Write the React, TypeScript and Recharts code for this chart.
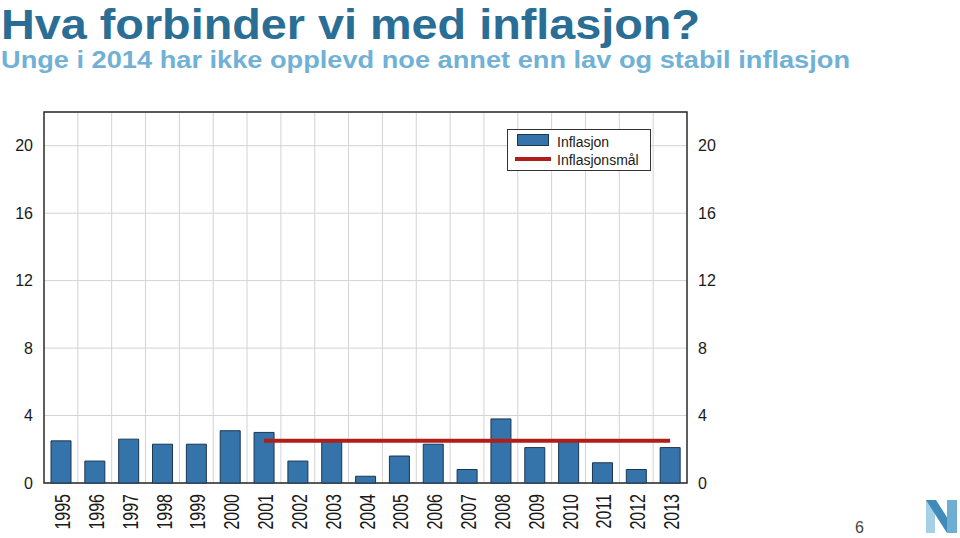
import React from "react";
import {
  ComposedChart,
  Bar,
  Line,
  XAxis,
  YAxis,
  CartesianGrid,
  Legend,
  ReferenceArea,
} from "recharts";

const years = [
  "1995", "1996", "1997", "1998", "1999", "2000", "2001", "2002", "2003", "2004",
  "2005", "2006", "2007", "2008", "2009", "2010", "2011", "2012", "2013",
];
const inflation = [
  2.5, 1.3, 2.6, 2.3, 2.3, 3.1, 3.0, 1.3, 2.5, 0.4,
  1.6, 2.3, 0.8, 3.8, 2.1, 2.5, 1.2, 0.8, 2.1,
];
const target = [
  null, null, null, null, null, null, 2.5, 2.5, 2.5, 2.5,
  2.5, 2.5, 2.5, 2.5, 2.5, 2.5, 2.5, 2.5, 2.5,
];
const yTicks = [0, 4, 8, 12, 16, 20];

const data = years.map((year, i) => ({
  year,
  inflasjon: inflation[i],
  maal: target[i],
}));

const FONT = '"Liberation Sans", Arial, Helvetica, sans-serif';
const BLUE = "#3474aa";
const RED = "#b01e1a";

const YearTick = (props: any) => {
  const { x, y, payload } = props;
  return (
    <text
      transform={`translate(${x + 1},${y + 11}) rotate(-90) scale(1,1.4)`}
      textAnchor="end"
      dominantBaseline="central"
      fontSize={16}
      fontFamily={FONT}
      fill="#1a1a1a"
    >
      {payload.value}
    </text>
  );
};

const renderLegend = () => (
  <div
    style={{
      position: "relative",
      width: 144,
      height: 42,
      boxSizing: "border-box",
      border: "1px solid #333",
      background: "#fff",
      fontFamily: FONT,
      fontSize: 14,
      color: "#1a1a1a",
    }}
  >
    <div
      style={{
        position: "absolute",
        left: 9,
        top: 4,
        width: 32,
        height: 12,
        boxSizing: "border-box",
        background: BLUE,
        border: "1px solid #1c3550",
      }}
    />
    <div style={{ position: "absolute", left: 49, top: 3, lineHeight: "18px" }}>
      Inflasjon
    </div>
    <div
      style={{
        position: "absolute",
        left: 7,
        top: 27,
        width: 36,
        height: 4,
        background: RED,
      }}
    />
    <div style={{ position: "absolute", left: 49, top: 21, lineHeight: "18px" }}>
      Inflasjonsmål
    </div>
  </div>
);

const App = () => {
  return (
    <div
      style={{
        position: "absolute",
        left: 0,
        top: 0,
        width: 960,
        height: 538,
        background: "#fff",
        fontFamily: FONT,
      }}
    >
      <svg
        width={960}
        height={538}
        style={{ position: "absolute", left: 0, top: 0, pointerEvents: "none" }}
      >
        <text
          x={1}
          y={39}
          fontSize={43}
          fontWeight="bold"
          fill="#2a6e95"
          textLength={699}
          lengthAdjust="spacingAndGlyphs"
          fontFamily={FONT}
        >
          Hva forbinder vi med inflasjon?
        </text>
        <text
          x={1}
          y={68}
          fontSize={23}
          fontWeight="bold"
          fill="#70b1d5"
          textLength={849}
          lengthAdjust="spacingAndGlyphs"
          fontFamily={FONT}
        >
          Unge i 2014 har ikke opplevd noe annet enn lav og stabil inflasjon
        </text>
        <text x={855} y={533} fontSize={16} fill="#444" fontFamily={FONT}>
          6
        </text>
        <polygon points="926,500 935,500 935,533 926,533" fill="#a6d0e6" />
        <polygon points="926,500 936,500 957,533 947,533" fill="#3f8bbb" />
        <polygon points="947,500 957,500 957,533 947,533" fill="#6eaed3" />
      </svg>
      <div style={{ position: "absolute", left: 0, top: 0 }}>
        <ComposedChart
          width={960}
          height={538}
          data={data}
          margin={{ top: 112, right: 233, bottom: 0, left: 0 }}
        >
          <CartesianGrid
            stroke="#d3d3d3"
            strokeWidth={1}
            verticalCoordinatesGenerator={({ offset }: any) =>
              years.slice(1).map((_, i) => offset.left + ((i + 1) * offset.width) / years.length)
            }
          />
          <XAxis
            dataKey="year"
            interval={0}
            tickLine={false}
            axisLine={false}
            tickSize={0}
            tickMargin={0}
            height={55}
            tick={<YearTick />}
          />
          <YAxis
            domain={[0, 22]}
            ticks={yTicks}
            width={44}
            tickLine={false}
            axisLine={false}
            tickSize={0}
            tickMargin={11}
            tick={{ fontSize: 16, fill: "#1a1a1a", fontFamily: FONT }}
          />
          <YAxis
            yAxisId="right"
            orientation="right"
            domain={[0, 22]}
            ticks={yTicks}
            width={40}
            tickLine={false}
            axisLine={false}
            tickSize={0}
            tickMargin={11}
            tick={{ fontSize: 16, fill: "#1a1a1a", fontFamily: FONT, textAnchor: "start" }}
          />
          <ReferenceArea y1={0} y2={22} fill="none" stroke="#2a2a2a" strokeWidth={1.5} />
          <Bar
            dataKey="inflasjon"
            name="Inflasjon"
            fill={BLUE}
            stroke="#1c3550"
            strokeWidth={1}
            barSize={20}
            isAnimationActive={false}
          />
          <Line
            yAxisId="right"
            dataKey="maal"
            name="Inflasjonsmål"
            stroke={RED}
            strokeWidth={4}
            dot={false}
            activeDot={false}
            connectNulls={false}
            isAnimationActive={false}
          />
          <Legend
            layout="horizontal"
            align="center"
            verticalAlign="middle"
            content={renderLegend}
            wrapperStyle={{ position: "absolute", left: 507, top: 129, width: 144, height: 42 }}
          />
        </ComposedChart>
      </div>
    </div>
  );
};

export default App;
